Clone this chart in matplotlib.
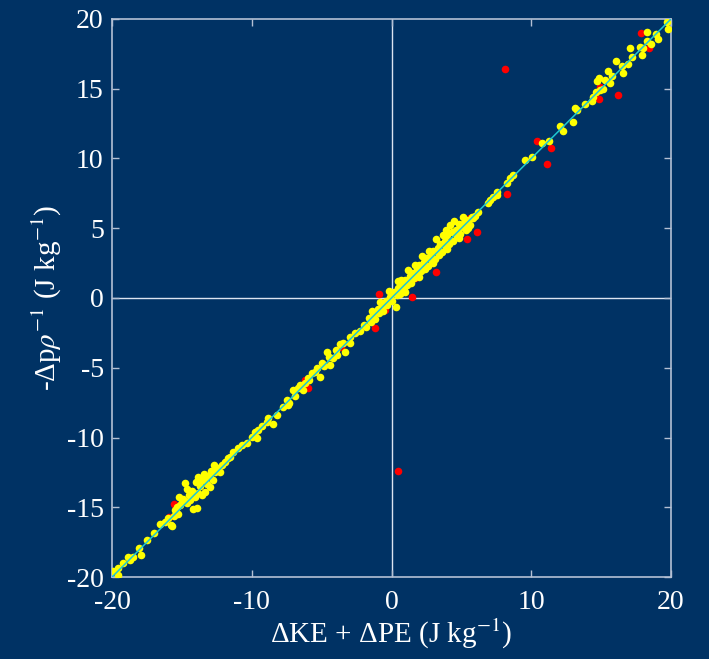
import numpy as np
import matplotlib
matplotlib.use("Agg")
import matplotlib.pyplot as plt

# ---------- datos ----------
amarillo_x = [
    -19.9, -19.6, -19.57, -19.2, -18.85, -18.5, -18.7, -18.1, -17.9, -17.5,
    -17.0, -16.6, -16.2, -15.7, -16.0, -15.8, -15.5, -15.35, -15.1, -15.0,
    -14.6, -14.2, -13.9, -14.4, -14.06, -13.85, -13.56, -13.35, -13.0, -14.8,
    -13.85, -13.56, -13.35, -13.0, -12.6, -12.4, -12.8, -12.1, -11.9, -11.55,
    -11.34, -11.0, -10.7, -10.34, -10.0, -9.6, -9.55,
    -14.9, -14.5, -14.3, -13.7, -13.2, -12.9, -12.3, -11.7, -15.3, -15.6,
    -14.0, -13.4, -12.7, -15.2, -14.6,
    -9.77, -8.84, -8.5, -8.9, -8.2, -7.8, -7.4, -7.5, -7.3, -7.05,
    -6.55, -6.7, -6.2, -6.3, -5.7, -5.33, -4.97, -4.5, -4.0, -3.47,
    -2.96, -2.25, -4.4, -3.3, -5.1, -4.6, -3.7, -5.9, -5.5, -4.8,
    -4.2, -3.9, -3.0, -2.6, -6.9, -6.0, -9.3,
    -2.0, -1.8, -1.6, -1.5, -1.3, -1.2, -1.0, -0.9, -0.7, -0.6,
    -0.4, -0.3, -0.1, 0.0, 0.2, 0.32, 0.4, 0.5, 0.6, 0.8,
    0.9, 1.0, 1.1, 1.3, 1.4, 1.5, 1.6, 1.8, 1.9, 2.0,
    2.1, 2.3, 2.4, 2.5, 2.6, 2.8, 2.9, 3.0, 3.1, 3.3,
    3.4, 3.5, 3.6, 3.8, 3.9, 4.0, 4.1, 4.2, 4.3, 4.4,
    4.6, 4.7, 4.8, 4.9, 5.0, 5.2, 5.3, 5.5, 5.6, 5.8,
    6.0, 6.2, 5.76, 3.7, 2.7, 1.7, 0.7,
    0.5, 1.2, 2.2, 3.2, 3.9, 4.5, 5.1, 1.0, 2.0, 3.0,
    4.0, 4.8, 5.5, -0.8, -1.4, -0.2,
    6.9, 7.26, 7.55, 7.05, 7.55, 8.3, 8.5, 8.7, 9.55, 10.05,
    10.8, 11.3, 12.06, 12.3, 13.0, 13.3, 13.85, 13.1, 14.35, 14.4,
    14.6, 15.1, 14.7, 14.85, 15.6, 15.8, 15.5, 16.5, 16.1, 16.6,
    16.9, 17.2, 17.1, 17.9, 17.8, 18.0, 18.3, 18.6, 18.9, 19.1,
    18.3, 19.7, 19.8, 15.3, 14.9,
]
amarillo_y = [
    -19.6, -19.85, -19.35, -19.0, -18.6, -18.6, -18.8, -17.9, -18.4, -17.35,
    -16.85, -16.2, -16.05, -16.35, -15.8, -16.3, -15.2, -15.0, -14.84, -14.6,
    -14.7, -15.1, -15.05, -14.5, -14.27, -13.98, -14.12, -13.9, -13.55, -13.26,
    -12.83, -13.05, -12.9, -12.7, -12.47, -12.2, -13.05, -11.97, -11.75, -11.4,
    -11.04, -10.75, -10.54, -10.4, -9.96, -10.0, -9.46,
    -14.4, -14.1, -13.8, -13.5, -13.3, -12.4, -12.5, -11.5, -15.5, -15.6,
    -13.2, -12.6, -12.0, -14.3, -13.7,
    -9.6, -8.6, -9.0, -8.9, -8.4, -7.8, -7.7, -7.3, -7.5, -6.6,
    -6.24, -6.45, -6.1, -6.6, -5.38, -5.0, -4.66, -4.2, -3.7, -3.2,
    -2.8, -2.4, -4.8, -3.9, -5.66, -3.9, -3.3, -5.9, -5.3, -4.9,
    -4.3, -4.1, -3.2, -2.5, -7.0, -5.7, -9.2,
    -1.9, -2.1, -1.4, -1.7, -1.2, -1.5, -0.8, -1.1, -0.6, -0.9,
    -0.2, -0.5, 0.1, -0.2, 0.4, -0.64, 0.2, 0.7, 0.3, 1.0,
    0.6, 1.3, 0.9, 1.6, 1.1, 1.8, 1.4, 2.1, 1.6, 2.4,
    1.9, 2.6, 2.1, 2.9, 2.3, 3.1, 2.6, 3.4, 2.8, 3.6,
    3.1, 3.9, 3.3, 4.1, 3.6, 4.5, 3.9, 5.2, 4.7, 4.1,
    4.9, 4.4, 5.3, 4.6, 5.1, 5.4, 4.9, 5.6, 5.2, 5.7,
    5.9, 6.16, 5.8, 4.5, 3.4, 2.4, 1.3,
    1.2, 2.0, 3.0, 4.2, 4.9, 5.5, 5.8, 0.4, 1.5, 2.5,
    3.5, 4.3, 5.0, -0.3, -0.9, 0.5,
    6.8, 7.24, 7.6, 7.0, 7.4, 8.25, 8.6, 8.8, 9.9, 10.1,
    11.1, 11.25, 12.3, 12.0, 12.6, 13.5, 13.9, 13.6, 14.1, 14.4,
    14.8, 15.0, 15.55, 15.8, 15.4, 15.9, 16.3, 16.6, 17.0, 16.1,
    16.8, 17.3, 17.9, 17.4, 18.0, 17.9, 18.4, 18.2, 18.9, 18.6,
    19.07, 19.8, 19.3, 15.6, 14.9,
]

rojo_x = [8.12, 0.47, 10.4, 11.4, 11.1, 8.26, 16.2, 14.85, 14.9, 17.85,
          18.4, -0.9, 1.47, 3.2, 5.4, 6.1, 5.6, -0.45, 1.7, -1.18,
          -6.0, -6.2, -15.6, -15.9, -3.6]
rojo_y = [16.42, -12.4, 11.25, 10.75, 9.6, 7.45, 14.55, 14.3, 15.1, 19.0,
          17.9, 0.29, 0.07, 1.86, 4.2, 4.7, 5.7, -0.86, 1.4, -2.15,
          -6.45, -5.9, -14.8, -15.7, -3.5]

limite = [-20, 20]
ticks_x = [-20, -10, 0, 10, 20]
ticks_y = [-20, -15, -10, -5, 0, 5, 10, 15, 20]

# ---------- estilo ----------
fondo = '#003264'
marco = '#b4c0d4'
plt.rcParams['font.family'] = ['Liberation Serif', 'DejaVu Serif']
plt.rcParams['mathtext.fontset'] = 'stix'
plt.rcParams['axes.unicode_minus'] = False

fig = plt.figure(figsize=(7.09, 6.59), dpi=100)
fig.patch.set_facecolor(fondo)
ax = fig.add_axes([0.158, 0.1244, 0.7884, 0.8468])
ax.set_facecolor(fondo)

ax.axhline(0, color='#dce4f0', lw=1.0, zorder=1)
ax.axvline(0, color='#dce4f0', lw=1.0, zorder=1)

ax.scatter(rojo_x, rojo_y, s=30, color='#ff0000', linewidths=0, zorder=2)
ax.scatter(amarillo_x, amarillo_y, s=30, color='#ffff00', linewidths=0, zorder=3)
ax.plot(limite, limite, color='#1ec8d2', lw=1.1, zorder=4)

ax.set_xlim(limite)
ax.set_ylim(limite)
ax.set_xticks(ticks_x)
ax.set_yticks(ticks_y)
ax.tick_params(direction='in', top=True, right=True, length=5, width=1,
               color=marco, labelcolor='white', labelsize=20, pad=6)
ax.tick_params(axis='x', pad=9)
for s in ax.spines.values():
    s.set_color(marco)
    s.set_linewidth(1.2)

ax.set_xlabel('ΔKE + ΔPE (J kg$^{-1}$)', color='white', fontsize=21, labelpad=2)
ax.set_ylabel('-Δp$\\rho^{-1}$ (J kg$^{-1}$)', color='white', fontsize=21, labelpad=2)

fig.savefig('out.png', dpi=100, facecolor=fondo)
